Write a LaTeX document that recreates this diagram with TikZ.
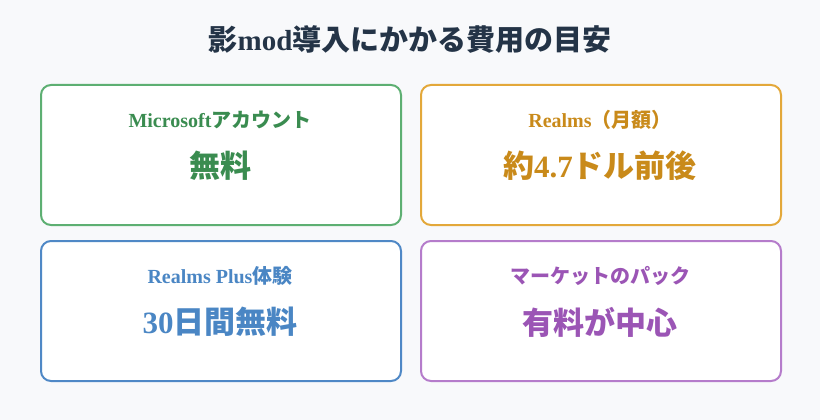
\documentclass[tikz,border=0pt]{standalone}
\usepackage{fontspec}
\setmainfont{Liberation Serif}
\newfontfamily\cjk{Noto Sans CJK JP}
\newcommand{\J}[1]{{\cjk #1}}
\definecolor{bg}{HTML}{F8F9FB}
\definecolor{ttl}{HTML}{243447}
\definecolor{gB}{HTML}{5DAF72}\definecolor{gT}{HTML}{3A8C50}
\definecolor{oB}{HTML}{E3A83A}\definecolor{oT}{HTML}{C98A1A}
\definecolor{bB}{HTML}{4F88C6}\definecolor{bT}{HTML}{4A86C4}
\definecolor{pB}{HTML}{B57CCB}\definecolor{pT}{HTML}{9B55B5}
\tikzset{
 card/.style={draw=#1,line width=2pt,rounded corners=10pt,fill=white,minimum width=360pt,minimum height=140pt,anchor=north west},
 lbl/.style={text=#1,font=\bfseries\fontsize{20}{22}\selectfont},
 val/.style={text=#1,font=\bfseries\fontsize{31}{34}\selectfont},
}
\begin{document}
\begin{tikzpicture}[x=1pt,y=-1pt]
\fill[bg] (0,0) rectangle (820,420);
\useasboundingbox (0,0) rectangle (820,420);
\node[text=ttl,font=\bfseries\fontsize{29}{32}\selectfont] (title) at (410,40) {\J{影}mod\J{導入にかかる費用の目安}};
\node[card=gB] (c1) at (40,84) {};
\node[card=oB] (c2) at (420,84) {};
\node[card=bB] (c3) at (40,240) {};
\node[card=pB] (c4) at (420,240) {};
\node[lbl=gT] (l1) at (220,120) {Microsoft\J{アカウント}};
\node[val=gT] (v1) at (220,166) {\J{無料}};
\node[lbl=oT] (l2) at (600,120) {Realms\J{（月額）}};
\node[val=oT] (v2) at (600,166) {\J{約}4.7\J{ドル前後}};
\node[lbl=bT] (l3) at (220,276) {Realms Plus\J{体験}};
\node[val=bT] (v3) at (220,322) {30\J{日間無料}};
\node[lbl=pT] (l4) at (600,276) {\J{マーケットのパック}};
\node[val=pT] (v4) at (600,322) {\J{有料が中心}};
\end{tikzpicture}
\end{document}
